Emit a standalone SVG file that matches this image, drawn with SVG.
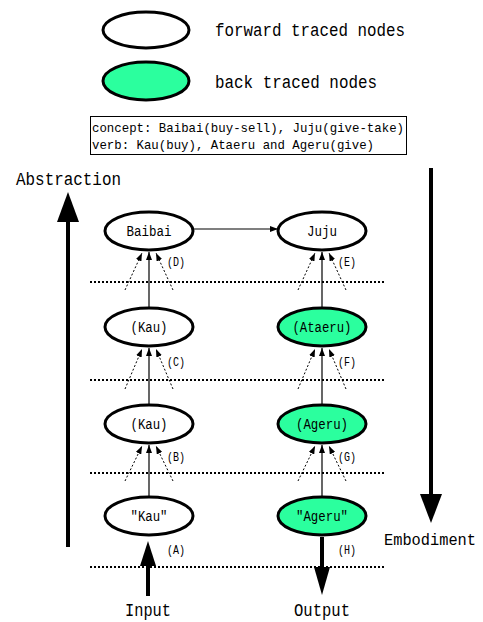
<svg xmlns="http://www.w3.org/2000/svg" width="483" height="622" viewBox="0 0 483 622">
  <style>
    text { font-family: "Liberation Mono", "DejaVu Sans Mono", monospace; fill: #000; }
    .big { font-size: 18px; }
    .node-label { font-size: 14px; text-anchor: middle; }
    .tag { font-size: 13px; }
    .box-text { font-size: 13px; }
    .fwd { fill: #fff; stroke: #000; stroke-width: 3; }
    .back { fill: #2bff9e; stroke: #000; stroke-width: 3; }
    .level { stroke: #000; stroke-width: 2; stroke-dasharray: 2 2; fill: none; }
    .solid { stroke: #000; stroke-width: 1.2; fill: none; }
    .dotted { stroke: #000; stroke-width: 1; stroke-dasharray: 2 2; fill: none; }
    .thick { stroke: #000; stroke-width: 4; fill: none; }
  </style>
  <defs>
    <marker id="head" markerWidth="8" markerHeight="6" refX="8" refY="3" orient="auto" markerUnits="userSpaceOnUse">
      <path d="M0,0 L8,3 L0,6 Z" fill="#000"/>
    </marker>
  </defs>

  <!-- legend -->
  <g id="legend">
    <ellipse class="fwd" cx="146" cy="30" rx="43" ry="18"/>
    <text class="big" x="215" y="36" textLength="190" lengthAdjust="spacingAndGlyphs">forward traced nodes</text>
    <ellipse class="back" cx="146" cy="81" rx="43" ry="19"/>
    <text class="big" x="215" y="88" textLength="162" lengthAdjust="spacingAndGlyphs">back traced nodes</text>
  </g>

  <g id="glossary">
    <rect x="90.5" y="116.5" width="316" height="38" fill="#fff" stroke="#000" stroke-width="1"/>
    <text class="box-text" x="92" y="132" textLength="312" lengthAdjust="spacingAndGlyphs">concept: Baibai(buy-sell), Juju(give-take)</text>
    <text class="box-text" x="92" y="149" textLength="282" lengthAdjust="spacingAndGlyphs">verb: Kau(buy), Ataeru and Ageru(give)</text>
  </g>

  <!-- level separators -->
  <g id="levels">
    <line class="level" x1="90" y1="282" x2="386" y2="282"/>
    <line class="level" x1="90" y1="380" x2="386" y2="380"/>
    <line class="level" x1="90" y1="473" x2="386" y2="473"/>
    <line class="level" x1="90" y1="567" x2="386" y2="567"/>
  </g>

  <!-- nodes -->
  <g id="node-D">
    <ellipse class="fwd" cx="149" cy="231" rx="44" ry="19"/>
    <text class="node-label" x="149" y="236" textLength="45" lengthAdjust="spacingAndGlyphs">Baibai</text>
    <text class="tag" x="167" y="266" textLength="18" lengthAdjust="spacingAndGlyphs">(D)</text>
  </g>
  <g id="node-E">
    <ellipse class="fwd" cx="322" cy="231" rx="44" ry="19"/>
    <text class="node-label" x="322" y="236" textLength="30" lengthAdjust="spacingAndGlyphs">Juju</text>
    <text class="tag" x="338" y="266" textLength="18" lengthAdjust="spacingAndGlyphs">(E)</text>
  </g>
  <g id="node-C">
    <ellipse class="fwd" cx="149" cy="327" rx="44" ry="19"/>
    <text class="node-label" x="149" y="332" textLength="37" lengthAdjust="spacingAndGlyphs">(Kau)</text>
    <text class="tag" x="167" y="366" textLength="18" lengthAdjust="spacingAndGlyphs">(C)</text>
  </g>
  <g id="node-F">
    <ellipse class="back" cx="322" cy="327" rx="44" ry="19"/>
    <text class="node-label" x="322" y="332" textLength="59" lengthAdjust="spacingAndGlyphs">(Ataeru)</text>
    <text class="tag" x="338" y="366" textLength="18" lengthAdjust="spacingAndGlyphs">(F)</text>
  </g>
  <g id="node-B">
    <ellipse class="fwd" cx="149" cy="424" rx="44" ry="19"/>
    <text class="node-label" x="149" y="429" textLength="37" lengthAdjust="spacingAndGlyphs">(Kau)</text>
    <text class="tag" x="167" y="461" textLength="18" lengthAdjust="spacingAndGlyphs">(B)</text>
  </g>
  <g id="node-G">
    <ellipse class="back" cx="322" cy="424" rx="44" ry="19"/>
    <text class="node-label" x="322" y="429" textLength="52" lengthAdjust="spacingAndGlyphs">(Ageru)</text>
    <text class="tag" x="338" y="461" textLength="18" lengthAdjust="spacingAndGlyphs">(G)</text>
  </g>
  <g id="node-A">
    <ellipse class="fwd" cx="149" cy="516" rx="44" ry="19"/>
    <text class="node-label" x="149" y="521" textLength="37" lengthAdjust="spacingAndGlyphs">"Kau"</text>
    <text class="tag" x="167" y="554" textLength="18" lengthAdjust="spacingAndGlyphs">(A)</text>
  </g>
  <g id="node-H">
    <ellipse class="back" cx="322" cy="516" rx="44" ry="19"/>
    <text class="node-label" x="322" y="521" textLength="52" lengthAdjust="spacingAndGlyphs">"Ageru"</text>
    <text class="tag" x="338" y="554" textLength="18" lengthAdjust="spacingAndGlyphs">(H)</text>
  </g>

  <!-- connectors -->
  <g id="connectors">
    <line class="solid" x1="193" y1="229" x2="278" y2="229" marker-end="url(#head)"/>

    <!-- D <- C -->
    <line class="solid" x1="149" y1="308" x2="149" y2="252" marker-end="url(#head)"/>
    <line class="dotted" x1="125" y1="290" x2="142" y2="253" marker-end="url(#head)"/>
    <line class="dotted" x1="173" y1="290" x2="156" y2="253" marker-end="url(#head)"/>
    <!-- E <- F -->
    <line class="solid" x1="322" y1="308" x2="322" y2="252" marker-end="url(#head)"/>
    <line class="dotted" x1="298" y1="290" x2="315" y2="253" marker-end="url(#head)"/>
    <line class="dotted" x1="346" y1="290" x2="329" y2="253" marker-end="url(#head)"/>

    <!-- C <- B -->
    <line class="solid" x1="149" y1="405" x2="149" y2="348" marker-end="url(#head)"/>
    <line class="dotted" x1="125" y1="389" x2="142" y2="349" marker-end="url(#head)"/>
    <line class="dotted" x1="173" y1="389" x2="156" y2="349" marker-end="url(#head)"/>
    <!-- F <- G -->
    <line class="solid" x1="322" y1="405" x2="322" y2="348" marker-end="url(#head)"/>
    <line class="dotted" x1="298" y1="389" x2="315" y2="349" marker-end="url(#head)"/>
    <line class="dotted" x1="346" y1="389" x2="329" y2="349" marker-end="url(#head)"/>

    <!-- B <- A -->
    <line class="solid" x1="149" y1="497" x2="149" y2="445" marker-end="url(#head)"/>
    <line class="dotted" x1="125" y1="481" x2="142" y2="446" marker-end="url(#head)"/>
    <line class="dotted" x1="173" y1="481" x2="156" y2="446" marker-end="url(#head)"/>
    <!-- G <- H -->
    <line class="solid" x1="322" y1="497" x2="322" y2="445" marker-end="url(#head)"/>
    <line class="dotted" x1="298" y1="481" x2="315" y2="446" marker-end="url(#head)"/>
    <line class="dotted" x1="346" y1="481" x2="329" y2="446" marker-end="url(#head)"/>

    <!-- input / output -->
    <line class="thick" x1="148" y1="596" x2="148" y2="562"/>
    <polygon points="148,541 140,566 156,566" fill="#000"/>
    <line class="thick" x1="322" y1="537" x2="322" y2="570"/>
    <polygon points="322,595 314,567 330,567" fill="#000"/>

    <!-- abstraction / embodiment axes -->
    <line class="thick" x1="68" y1="547" x2="68" y2="215"/>
    <polygon points="68,192 57,222 79,222" fill="#000"/>
    <line class="thick" x1="431" y1="168" x2="431" y2="500"/>
    <polygon points="431,523 420,494 442,494" fill="#000"/>
  </g>

  <g id="axis-labels">
    <text class="big" x="16" y="185" textLength="105" lengthAdjust="spacingAndGlyphs">Abstraction</text>
    <text x="384" y="545" font-size="16" textLength="92" lengthAdjust="spacingAndGlyphs">Embodiment</text>
    <text class="big" x="148" y="616" text-anchor="middle" textLength="46" lengthAdjust="spacingAndGlyphs">Input</text>
    <text class="big" x="322" y="616" text-anchor="middle" textLength="56" lengthAdjust="spacingAndGlyphs">Output</text>
  </g>
</svg>
